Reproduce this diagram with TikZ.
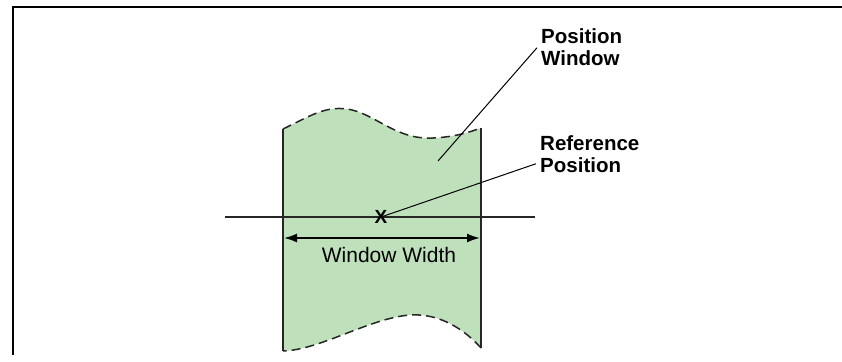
\documentclass[tikz,border=0pt]{standalone}
\usepackage{fontspec}
\setmainfont{Liberation Sans}
\usetikzlibrary{arrows.meta, positioning}
\definecolor{wingreen}{RGB}{190,224,187}

\begin{document}
\begin{tikzpicture}[x=1pt, y=-1pt,
  lbl/.style={align=left, anchor=north west, inner sep=4pt,
              font=\bfseries\fontsize{20.5}{22}\selectfont},
  edge/.style={line width=1.5pt, draw=black!85},
  cut/.style={edge, dash pattern=on 9pt off 5pt},
  ar/.style={{Latex[length=13pt,width=9pt]}-{Latex[length=13pt,width=9pt]}, line width=1.8pt},
  lead/.style={line width=1pt}]
\useasboundingbox (0,0) rectangle (842,361);
% frame (top and left only)
\draw[line width=1.6pt] (13,355) -- (13,7) -- (842,7);
% window shape
\fill[wingreen] (283,129) .. controls (310,116) and (325,106) .. (347,109)
  .. controls (375,113) and (395,140) .. (433,138)
  .. controls (455,137) and (470,132) .. (481,128)
  -- (481,348) .. controls (465,330) and (440,313) .. (410,315)
  .. controls (370,318) and (320,350) .. (283,351) -- cycle;
\draw[edge] (283,129) -- (283,351);
\draw[edge] (481,128) -- (481,348);
\draw[cut] (283,129) .. controls (310,116) and (325,106) .. (347,109)
  .. controls (375,113) and (395,140) .. (433,138)
  .. controls (455,137) and (470,132) .. (481,128);
\draw[cut] (481,348) .. controls (465,330) and (440,313) .. (410,315)
  .. controls (370,318) and (320,350) .. (283,351);
% axis line and reference mark
\coordinate (hl) at (225,217);
\coordinate (hr) at (535,217);
\draw[line width=2.5pt, draw=black!85] (hl) -- (hr);
\node[font=\bfseries\fontsize{19}{19}\selectfont, inner sep=0pt] (cross) at (381,217) {X};
% window width
\coordinate (wl) at (284,238);
\coordinate (wr) at (480,238);
\draw[ar] (wl) -- (wr);
\node[font=\fontsize{21}{21}\selectfont, anchor=base] (width) at (389,262) {Window Width};
% labels
\node[lbl] (winlbl) at (537,24) {Position\\Window};
\node[lbl] (reflbl) at (536,131) {Reference\\Position};
\coordinate (winpt) at (438,161);
\draw[lead] (winpt) -- ([yshift=-1pt]winlbl.west);
\draw[lead] (cross.center) -- ([yshift=-10pt]reflbl.west);
\end{tikzpicture}
\end{document}
